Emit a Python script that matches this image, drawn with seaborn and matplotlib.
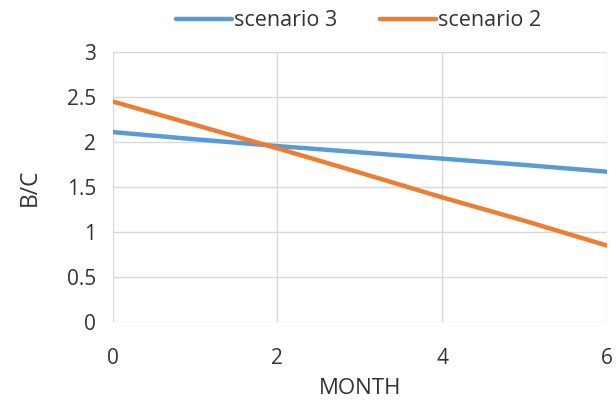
import matplotlib
matplotlib.use("Agg")
import matplotlib.pyplot as plt
import seaborn as sns
import pandas as pd

months = [0, 1, 2, 3, 4, 5, 6]
scenario_3 = [2.11, 2.03, 1.955, 1.885, 1.815, 1.745, 1.67]
scenario_2 = [2.45, 2.19, 1.93, 1.66, 1.385, 1.125, 0.85]
series_names = ["scenario 3", "scenario 2"]
palette = ["#5B9BD5", "#ED7D31"]

df = pd.DataFrame({
    "MONTH": months * 2,
    "B/C": scenario_3 + scenario_2,
    "series": [series_names[0]] * len(months) + [series_names[1]] * len(months),
})

sns.set_theme(style="white")
plt.rcParams["font.family"] = ["Open Sans", "DejaVu Sans"]

fig = plt.figure(figsize=(6.16, 4.03), dpi=100)
ax = fig.add_axes([0.183, 0.201, 0.802, 0.670])

sns.lineplot(data=df, x="MONTH", y="B/C", hue="series", hue_order=series_names,
             palette=palette, linewidth=3.2, ax=ax, legend=True)

ax.set_xlim(0, 6)
ax.set_ylim(0, 3)
ax.set_xticks([0, 2, 4, 6])
ax.set_yticks([0, 0.5, 1, 1.5, 2, 2.5, 3])
ax.set_yticklabels(["0", "0.5", "1", "1.5", "2", "2.5", "3"])
ax.grid(True, color="#D9D9D9", linewidth=1)
ax.set_axisbelow(True)
for s in ax.spines.values():
    s.set_visible(False)
ax.tick_params(axis="both", length=0, labelsize=15, colors="#333333")
ax.tick_params(axis="x", pad=19)
ax.tick_params(axis="y", pad=12)
ax.set_xlabel("MONTH", fontsize=16, color="#333333", labelpad=6)
ax.set_ylabel("B/C", fontsize=16.5, color="#333333", labelpad=18)

handles, labels = ax.get_legend_handles_labels()
ax.legend(handles, labels, loc="center", bbox_to_anchor=(0.582, 0.948),
          bbox_transform=fig.transFigure, ncol=2, frameon=False,
          fontsize=15.5, handlelength=2.6, columnspacing=2.0, handletextpad=0.1,
          labelcolor="#333333")

fig.savefig("out.png", dpi=100)
